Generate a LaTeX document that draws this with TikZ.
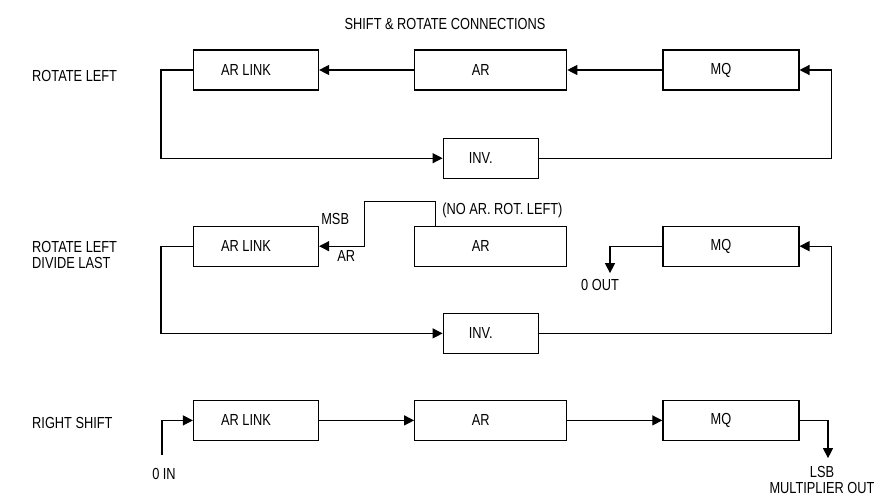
\documentclass[tikz,border=0pt]{standalone}
\usepackage{fontspec}
\setmainfont{Liberation Sans}[FakeStretch=0.8]
\usetikzlibrary{arrows.meta, positioning}
\tikzset{
    regbox/.style={rectangle, draw, line width=1.2pt, minimum height=40pt,
        inner sep=0pt, font=\fontsize{16}{16}\selectfont,
        execute at end node={\kern20pt}},
    linkbox/.style={regbox, minimum width=125pt},
    arbox/.style={regbox, minimum width=152pt},
    mqbox/.style={regbox, minimum width=136pt},
    invbox/.style={regbox, minimum width=95pt},
    rowlabel/.style={anchor=west, align=left, inner sep=0pt, font=\fontsize{16}{16}\selectfont},
    note/.style={inner sep=1pt, align=center, font=\fontsize{16}{16}\selectfont},
    arrow/.style={-{Triangle[length=10pt, width=10pt]}, line width=1.2pt}
}

\begin{document}
\begin{tikzpicture}[x=1pt, y=-1pt]
    \useasboundingbox (0,0) rectangle (882,497);

    \node[note] (title) at (445,24) {SHIFT \& ROTATE CONNECTIONS};

    % rotate left
    \node[rowlabel] (rl-label) at (32,76) {ROTATE LEFT};
    \node[linkbox] (rl-link) at (256,70) {AR LINK};
    \node[arbox, right=95pt of rl-link] (rl-ar) {AR};
    \node[mqbox, right=95pt of rl-ar] (rl-mq) {MQ};
    \node[invbox, below=47pt of rl-ar] (rl-inv) {INV.};

    \draw[arrow] (rl-ar) -- (rl-link);
    \draw[arrow] (rl-mq) -- (rl-ar);
    \draw[arrow] (rl-link.west) -- ([xshift=-32pt]rl-link.west) |- (rl-inv.west);
    \draw[arrow] (rl-inv.east) -| ([xshift=32pt]rl-mq.east) -- (rl-mq.east);

    % rotate left, divide last
    \node[rowlabel] (dl-label) at (32,255) {ROTATE LEFT\\DIVIDE LAST};
    \node[linkbox, below=135pt of rl-link] (dl-link) {AR LINK};
    \node[arbox, right=95pt of dl-link] (dl-ar) {AR};
    \node[mqbox, right=95pt of dl-ar] (dl-mq) {MQ};
    \node[invbox, below=46pt of dl-ar] (dl-inv) {INV.};

    \node[note, anchor=south west] (msb) at ([xshift=1pt]dl-link.north east) {MSB};
    \node[note, anchor=north west] (ar-bit) at ([xshift=17pt, yshift=-3pt]dl-link.east) {AR};
    \node[note, anchor=west] (no-rot) at ([xshift=27pt, yshift=15pt]dl-ar.north west) {(NO AR. ROT. LEFT)};
    \node[note] (zero-out) at (600,285) {0 OUT};

    \draw[arrow] ([xshift=21pt]dl-ar.north west) -- ++(0pt,24pt) -| ([xshift=45pt]dl-link.east) -- (dl-link.east);
    \draw[arrow] (dl-mq.west) -| ([xshift=10pt, yshift=5pt]zero-out.north);
    \draw[arrow] (dl-link.west) -- ([xshift=-32pt]dl-link.west) |- (dl-inv.west);
    \draw[arrow] (dl-inv.east) -| ([xshift=32pt]dl-mq.east) -- (dl-mq.east);

    % right shift
    \node[rowlabel] (rs-label) at (32,423) {RIGHT SHIFT};
    \node[linkbox, below=133pt of dl-link] (rs-link) {AR LINK};
    \node[arbox, right=95pt of rs-link] (rs-ar) {AR};
    \node[mqbox, right=95pt of rs-ar] (rs-mq) {MQ};

    \node[note] (zero-in) at (164,474) {0 IN};
    \node[note] (lsb-out) at (822,480) {LSB\\MULTIPLIER OUT};

    \draw[arrow] ([xshift=-2pt, yshift=12pt]zero-in.north) |- (rs-link.west);
    \draw[arrow] (rs-link) -- (rs-ar);
    \draw[arrow] (rs-ar) -- (rs-mq);
    \draw[arrow] (rs-mq.east) -| ([xshift=6pt, yshift=7pt]lsb-out.north);

\end{tikzpicture}
\end{document}
